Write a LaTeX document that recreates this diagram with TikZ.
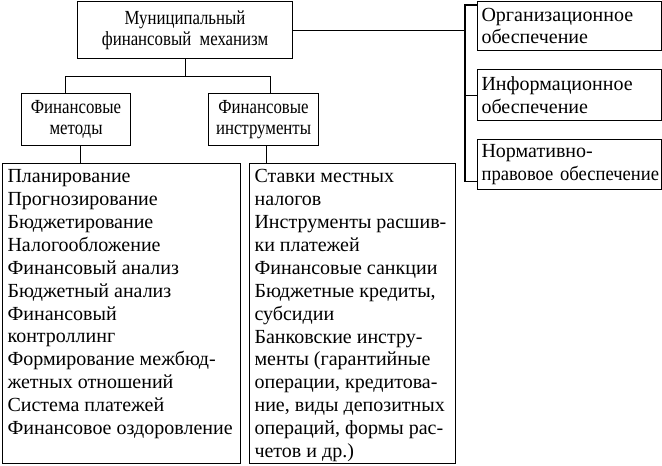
\documentclass[tikz,border=0pt]{standalone}
\usepackage{fontspec}
\setmainfont{Liberation Serif}
\newfontfamily\narrowserif[FakeStretch=0.84]{Liberation Serif}

\begin{document}
\begin{tikzpicture}[x=1pt, y=-1pt, line width=1.1pt,
    box/.style={draw, anchor=north west, inner sep=0pt, align=center,
        font=\narrowserif\fontsize{20}{21.5}\selectfont},
    sidebox/.style={draw, anchor=north west, inner xsep=4pt, inner ysep=0pt,
        align=left, text width=#1, font=\fontsize{20}{22.5}\selectfont},
    listbox/.style={draw, anchor=north west, inner xsep=5pt, inner ysep=6pt,
        font=\fontsize{20}{22.9}\selectfont}]

    \useasboundingbox (0,0) rectangle (662,466);

    % Oben
    \node [box, minimum width=215, minimum height=57] (mech) at (77,1) {Муниципальный\\финансовый\ \ механизм};

    \node [box, minimum width=109, minimum height=52] (methods) at (21,93) {Финансовые\\методы};
    \node [box, minimum width=110, minimum height=52] (instr) at (208,93) {Финансовые\\инструменты};

    % Listen
    \node [listbox] (methlist) at (2,163) {\parbox[t][288pt][t]{228pt}{\raggedright
        Планирование\\
        Прогнозирование\\
        Бюджетирование\\
        Налогообложение\\
        Финансовый анализ\\
        Бюджетный анализ\\
        Финансовый\\
        контроллинг\\
        Формирование межбюд-\\
        жетных отношений\\
        Система платежей\\
        Финансовое оздоровление}};
    \node [listbox] (instrlist) at (249,163) {\parbox[t][288pt][t]{196pt}{\raggedright
        Ставки местных\\
        налогов\\
        Инструменты расшив-\\
        ки платежей\\
        Финансовые санкции\\
        Бюджетные кредиты,\\
        субсидии\\
        Банковские инстру-\\
        менты (гарантийные\\
        операции, кредитова-\\
        ние, виды депозитных\\
        операций, формы рас-\\
        четов и др.)}};

    % Rechts
    \node [sidebox=176, minimum width=184, minimum height=49] (org) at (477,1) {Организационное\\обеспечение};
    \node [sidebox=176, minimum width=184, minimum height=51] (info) at (477,69) {Информационное\\обеспечение};
    \node [sidebox=176, minimum width=184, minimum height=50] (norm) at (477,139) {Нормативно-\\\mbox{\addfontfeature{FakeStretch=0.93}правовое обеспечение}};

    % Verbindungen
    \coordinate (bus) at ([xshift=-12]org.west);
    \draw (mech.south) -- ++(0,17) coordinate (split);
    \draw ([xshift=-11]methods.north) |- (split) -| ([xshift=7]instr.north);
    \draw ([xshift=4]methods.south) -- ([xshift=4]methods.south |- methlist.north);
    \draw ([xshift=3]instr.south) -- ([xshift=3]instr.south |- instrlist.north);
    \draw (mech.east) -- (mech.east -| bus);
    \draw ([yshift=-4]org.north west) -| (bus) |- ([yshift=9]norm.south west);
    \draw (info.west) -- (info.west -| bus);

\end{tikzpicture}
\end{document}
